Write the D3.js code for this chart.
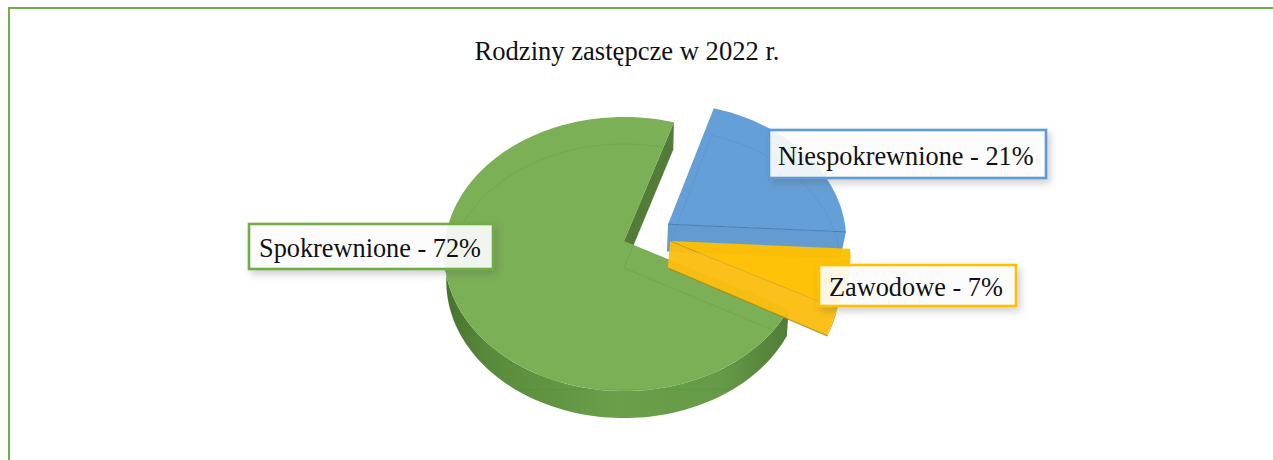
<!DOCTYPE html>
<html><head><meta charset="utf-8">
<style>html,body{margin:0;padding:0;background:#fff;overflow:hidden}svg{display:block}</style>
<script src="https://cdn.jsdelivr.net/npm/d3@7"></script></head>
<body><div id="c"></div>
<script>
const title = "Rodziny zastępcze w 2022 r.";
const categories = ["Spokrewnione", "Niespokrewnione", "Zawodowe"];
const values = [72, 21, 7];

const W = 1273, H = 460;
const svg = d3.select("#c").append("svg").attr("width", W).attr("height", H);
const defs = svg.append("defs");
const rad = Math.PI / 180;

const colors = {
  Spokrewnione: {top:"#7bb056", wall:"#537c38", edge:"#4d7a30", op:1, shrink:.988},
  Niespokrewnione: {top:"#5b9bd5", wall:"#5b96cf", edge:"#3f76ad", op:.94, shrink:.975},
  Zawodowe: {top:"#ffc000", wall:"#fbbe10", edge:"#a98510", op:.96, shrink:.955}
};
const burst = {Spokrewnione:[0,0], Niespokrewnione:[.249,-.125], Zawodowe:[.257,0]};

// 3D projection of the unit disc
const cx = 624, cy = 241, rx = 179, ry = 135.8, persp = .095, depth = 27;
const pie = d3.pie().sort(null).startAngle(118.5 * rad).endAngle(478.5 * rad);
const arcs = pie(values);
const line = d3.line();
const proj = (u, v, z, k) => {
  const s = 1 / (1 - persp * v);
  return [cx + rx * u * s * (z ? k : 1), cy + ry * v * s + (z ? depth : 0)];
};
const closed = p => line(p) + "Z";

// gradient for the green rim
const g1 = defs.append("linearGradient").attr("id","rimG").attr("gradientUnits","userSpaceOnUse")
  .attr("x1",445).attr("x2",790).attr("y1",0).attr("y2",0);
[[0,"#47702e"],[.12,"#588a3b"],[.5,"#6b9f4a"],[.8,"#659a46"],[1,"#507c36"]].forEach(s =>
  g1.append("stop").attr("offset",s[0]).attr("stop-color",s[1]));
const f = defs.append("filter").attr("id","sh").attr("x","-10%").attr("y","-30%").attr("width","125%").attr("height","180%");
f.append("feDropShadow").attr("dx",3).attr("dy",4).attr("stdDeviation",3.5).attr("flood-color","#555").attr("flood-opacity",.3);

// border
svg.append("path").attr("d", line([[9,H],[9,8],[W,8]])).attr("fill","none").attr("stroke","#70ad47").attr("stroke-width",2);

// title
svg.append("text").attr("x",627).attr("y",60).attr("text-anchor","middle")
  .style("font-family","'Liberation Serif'").style("font-size","26.6px").attr("fill","#111").text(title);

arcs.forEach((d, i) => {
  const name = categories[i], c = colors[name], o = burst[name], k = c.shrink;
  const a0 = d.startAngle, a1 = d.endAngle;
  const pt = (a, z) => proj(o[0] + Math.sin(a), o[1] - Math.cos(a), z, k);
  const arcPts = (b0, b1, z) => {
    const n = Math.max(2, Math.ceil(Math.abs(b1 - b0) / (1.5 * rad)));
    return d3.range(n + 1).map(j => pt(b0 + (b1 - b0) * j / n, z));
  };
  const g = svg.append("g").attr("opacity", c.op);
  const apexT = proj(o[0], o[1], 0, k), apexB = proj(o[0], o[1], 1, k);
  if (name === "Spokrewnione") {
    const rim0 = Math.max(a0, 90 * rad), rim1 = Math.min(a1, 270 * rad);
    g.append("path").attr("d", closed(arcPts(rim0, rim1, 0).concat(arcPts(rim1, rim0, 1)))).attr("fill","url(#rimG)");
    g.append("path").attr("d", closed([pt(a1,0), apexT, apexB, pt(a1,1)])).attr("fill", c.wall);
    g.append("path").attr("d", closed([apexT].concat(arcPts(a0, a1, 0)))).attr("fill", c.top);
    // faint base outline seen through the top
    g.append("path").attr("d", line([pt(a1,1), apexB, pt(a0,1)]))
      .attr("fill","none").attr("stroke","#4f7a33").attr("stroke-opacity",.25).attr("stroke-width",.8);
    g.append("path").attr("d", line(arcPts(a0, a1, 1).filter(p => p[1] < 391)))
      .attr("fill","none").attr("stroke","#4f7a33").attr("stroke-opacity",.2).attr("stroke-width",.8);
  } else if (name === "Niespokrewnione") {
    g.append("path").attr("d", closed([apexT].concat(arcPts(a1, a0, 0)))).attr("fill", c.top);
    g.append("path").attr("d", closed([apexT, pt(a1,0), pt(a1,1), apexB])).attr("fill", c.wall);
    g.append("path").attr("d", line([apexT, pt(a1,0)])).attr("fill","none").attr("stroke",c.edge).attr("stroke-width",1);
    g.append("path").attr("d", line([pt(a0,1), apexB, pt(a1,1)])).attr("fill","none").attr("stroke",c.edge).attr("stroke-opacity",.3).attr("stroke-width",.8);
    g.append("path").attr("d", line(arcPts(a0, a1, 1))).attr("fill","none").attr("stroke",c.edge).attr("stroke-opacity",.3).attr("stroke-width",.8);
  } else {
    g.append("path").attr("d", closed(arcPts(a0, a1, 0).concat(arcPts(a1, a0, 1)))).attr("fill","#d29c0c");
    g.append("path").attr("d", closed([apexT, pt(a1,0), pt(a1,1), apexB])).attr("fill", c.wall);
    g.append("path").attr("d", closed([apexT].concat(arcPts(a0, a1, 0)))).attr("fill", c.top);
    g.append("path").attr("d", line([apexT, pt(a1,0)])).attr("fill","none").attr("stroke",c.edge).attr("stroke-opacity",.6).attr("stroke-width",.8);
    g.append("path").attr("d", line([apexB, pt(a1,1)])).attr("fill","none").attr("stroke",c.edge).attr("stroke-opacity",.8).attr("stroke-width",1.2);
  }
});

// labels
const boxes = {
  Spokrewnione:{x:249,y:224,w:244,h:45,tx:259,ty:257,stroke:"#70ad47"},
  Niespokrewnione:{x:769,y:130,w:277,h:48,tx:778,ty:165,stroke:"#5b9bd5"},
  Zawodowe:{x:819,y:265,w:197,h:41,tx:829,ty:296,stroke:"#ffc000"}
};
categories.forEach((name, i) => {
  const b = boxes[name];
  svg.append("rect").attr("x",b.x).attr("y",b.y).attr("width",b.w).attr("height",b.h)
    .attr("fill","#fff").attr("fill-opacity",.88).attr("stroke",b.stroke).attr("stroke-width",2.6)
    .attr("filter","url(#sh)");
  svg.append("text").attr("x",b.tx).attr("y",b.ty)
    .style("font-family","'Liberation Serif'").style("font-size","26.3px").attr("fill","#111")
    .text(name + " - " + values[i] + "%");
});
</script></body></html>
